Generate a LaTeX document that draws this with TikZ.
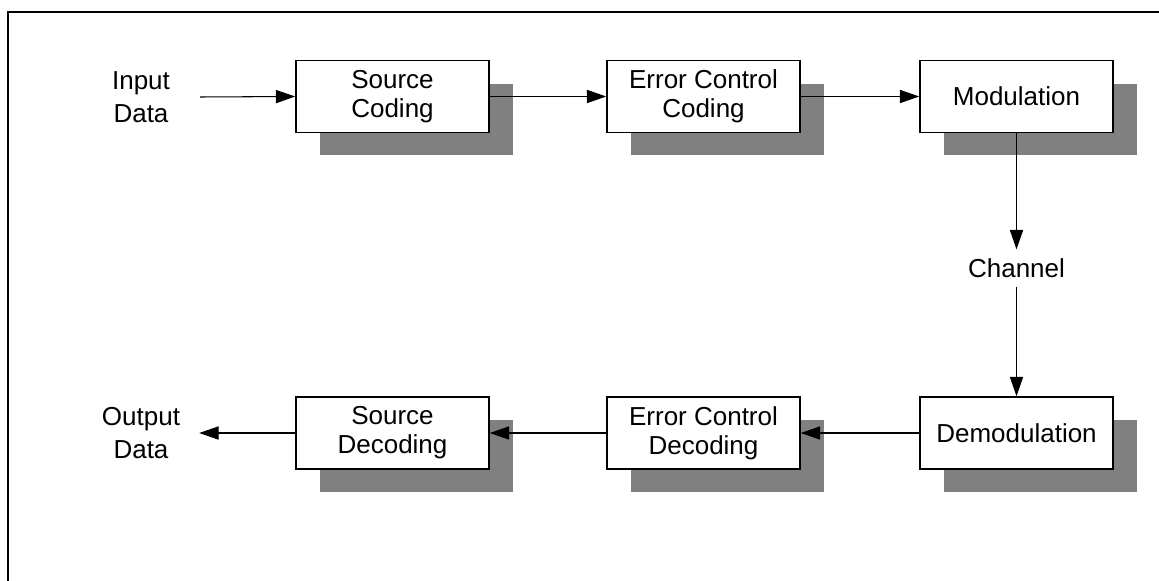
\documentclass[tikz,border=0pt]{standalone}
\usepackage{fontspec}
\setmainfont{Liberation Sans}
\usetikzlibrary{arrows.meta,shadows}

\tikzset{
	block/.style={draw,line width=0.9pt,fill=white,align=center,
		minimum width=3.86cm,minimum height=1.44cm,inner sep=0pt,
		font=\fontsize{14.8}{16.5}\selectfont,
		general shadow={fill=black!50,shadow xshift=0.48cm,shadow yshift=-0.46cm}},
	word/.style={align=center,font=\fontsize{14.8}{18.7}\selectfont},
	flow/.style={-{Triangle[length=11pt,width=7.5pt]},line width=0.6pt}
}

\begin{document}
\begin{tikzpicture}[x=0.02cm,y=-0.02cm]

	\useasboundingbox (0,0) rectangle (1159,581);
	\draw[line width=1.3pt] (8,581) -- (8,12) -- (1159,12);

	\node[block] (src) at (392.5,96.5) {Source\\Coding};
	\node[block] (ecc) at (703.5,96.5) {Error Control\\Coding};
	\node[block] (mod) at (1016.5,96.5) {Modulation};

	\node[block] (demod) at (1016.5,433) {Demodulation};
	\node[block] (ecd) at (703.5,433) {Error Control\\Decoding};
	\node[block] (sdec) at (392.5,433) {Source\\Decoding};

	\node[word] (in) at (141,97) {Input\\Data};
	\node[word] (out) at (141,433) {Output\\Data};
	\node[word,inner sep=5pt] (chan) at (1016.5,268) {Channel};

	\draw[flow] (200,97) -- (src.west |- mod);
	\draw[flow] (src) -- (ecc);
	\draw[flow] (ecc) -- (mod);
	\draw[flow] (mod) -- (chan);
	\draw[flow] (chan) -- (demod);
	\draw[flow] (demod) -- (ecd);
	\draw[flow] (ecd) -- (sdec);
	\draw[flow] (sdec.west) -- ++(-96,0);
\end{tikzpicture}
\end{document}
